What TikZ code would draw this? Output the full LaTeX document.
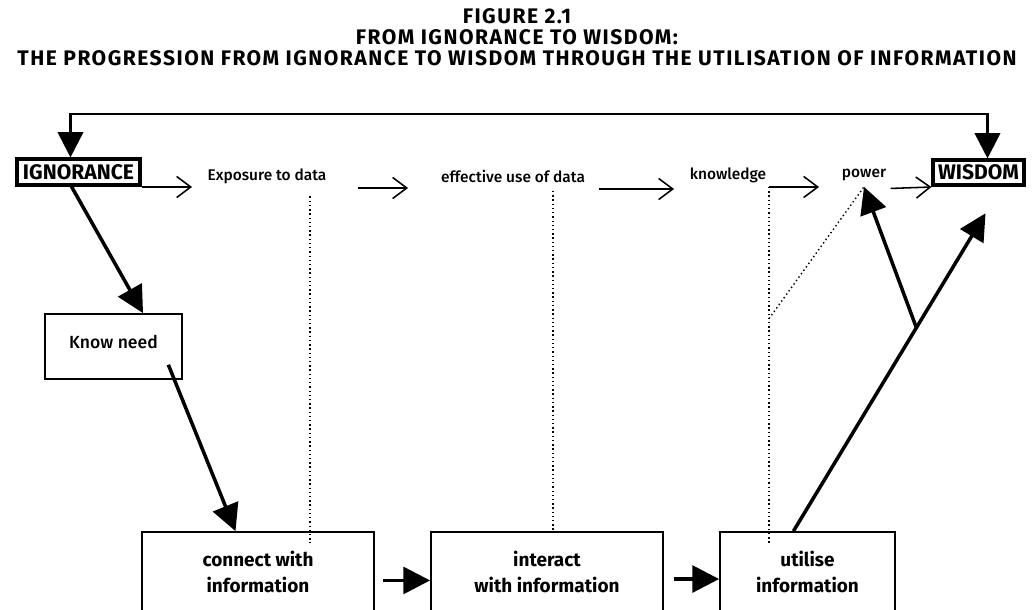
\documentclass[tikz,border=0pt]{standalone}
\usepackage{fontspec}
\setmainfont{Fira Sans}
\newfontfamily\mediumface{Fira Sans Medium}
\usetikzlibrary{arrows.meta,positioning}

\begin{document}
\begin{tikzpicture}[x=0.025cm,y=-0.025cm,
    titletext/.style={font=\bfseries\fontsize{15}{17}\selectfont\addfontfeature{LetterSpace=7}},
    endbox/.style={draw,line width=2.2pt,inner sep=1pt,font=\bfseries\fontsize{15}{18}\selectfont},
    stagebox/.style={draw,line width=1.2pt,inner sep=0pt,align=center,font=\bfseries\fontsize{13.5}{18}\selectfont},
    word/.style={inner sep=1pt,font=\mediumface\fontsize{11}{13}\selectfont},
    chain/.style={line width=1.1pt,-{Straight Barb[length=10pt,width=15pt]}},
    heavy/.style={line width=2.5pt,-{Triangle[length=19pt,width=19pt]}},
    dotline/.style={dotted,line width=1pt}]
    \useasboundingbox (0,0) rectangle (1033,610);
    \clip (0,0) rectangle (1033,610);
    % titles
    \node[titletext] (t1) at (517,16) {FIGURE 2.1};
    \node[titletext] (t2) at (517,37) {FROM IGNORANCE TO WISDOM:};
    \node[titletext] (t3) at (517,58) {THE PROGRESSION FROM IGNORANCE TO WISDOM THROUGH THE UTILISATION OF INFORMATION};
    % top row
    \node[endbox,minimum width=3.075cm,minimum height=0.65cm] (ign) at (78.5,172) {IGNORANCE};
    \node[endbox,minimum width=2.275cm,minimum height=0.625cm] (wis) at (978.5,172.5) {WISDOM};
    \node[word] (expo) at (267,176) {Exposure to data};
    \node[word] (eff) at (513,176) {effective use of data};
    \node[word] (knw) at (728,175) {knowledge};
    \node[word] (pow) at (864,175) {power};
    % boxes
    \node[stagebox,font=\mediumface\fontsize{12.5}{15}\selectfont,minimum width=3.425cm,minimum height=1.625cm] (know) at (113.5,346.5) {\raisebox{6pt}{Know need}};
    \node[stagebox,minimum width=5.8cm,minimum height=2cm] (con) at (258,572) {connect with\\information};
    \node[stagebox,minimum width=5.8cm,minimum height=2cm] (int) at (547,572) {interact\\with information};
    \node[stagebox,minimum width=4.375cm,minimum height=2cm] (utl) at (807.5,572) {utilise\\information};

    % the loop back
    \coordinate (top) at (500,114);
    \draw[line width=2pt,{Triangle[length=18pt,width=18pt]}-{Triangle[length=18pt,width=18pt]}]
        ([xshift=-5.7pt]ign.north) |- (top) -| ([xshift=6.4pt]wis.north);

    % open arrows along the top
    \coordinate (a1) at (192,187);
    \coordinate (a2s) at (358,188);
    \coordinate (a2) at (408,188);
    \coordinate (a3s) at (599,189);
    \coordinate (a3) at (674,189);
    \coordinate (a4s) at (769,187);
    \coordinate (a4) at (819,187);
    \draw[chain] (ign.east |- a1) -- (a1);
    \draw[chain] (a2s) -- (a2);
    \draw[chain] (a3s) -- (a3);
    \draw[chain] (a4s) -- (a4);
    \draw[chain,shorten <=2pt] (pow.east |- wis.south) ++(0,2) -- (wis.west |- a4);

    % dotted links
    \coordinate (d1) at (310,543);
    \coordinate (d2) at (553,532);
    \coordinate (d3) at (769,543);
    \draw[dotline,shorten <=8pt] (expo.south -| d1) -- (d1);
    \draw[dotline,shorten <=5pt] (eff.south -| d2) -- (d2);
    \draw[dotline] (a4s) -- coordinate[pos=0.37] (kink) (d3);
    \draw[dotline] (kink) -- ([yshift=-3pt]pow.south);

    % heavy arrows
    \draw[heavy] ([xshift=-5pt]ign.south) -- ([xshift=21pt]know.north);
    \draw[heavy] ([xshift=39pt,yshift=-13pt]know.center) -- ([xshift=-16pt]con.north);
    \draw[heavy,shorten <=6pt] ([yshift=-6pt]con.east) -- ([yshift=-6pt]int.west);
    \draw[heavy,shorten <=7pt] ([yshift=-5pt]int.east) -- ([yshift=-5pt]utl.west);
    \draw[heavy] ([xshift=-10pt]utl.north) -- coordinate[pos=0.64] (fork) ([xshift=5pt,yshift=-19pt]wis.south);
    \draw[heavy] (fork) -- ([yshift=-3pt]pow.south);
\end{tikzpicture}
\end{document}
